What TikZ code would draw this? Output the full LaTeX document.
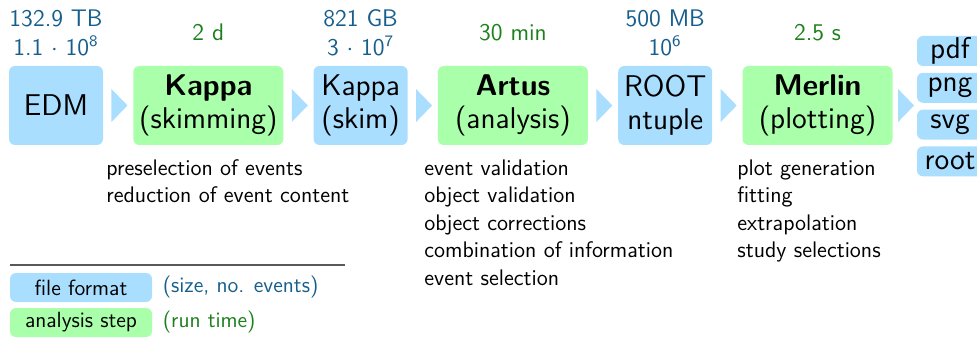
\documentclass[tikz,border=0pt]{standalone}
\usetikzlibrary{positioning,shapes.geometric}
\definecolor{fileblue}{RGB}{170,222,255}
\definecolor{stepgreen}{RGB}{170,255,170}
\definecolor{sizeblue}{RGB}{22,94,140}
\definecolor{timegreen}{RGB}{28,128,28}
\begin{document}
\begin{tikzpicture}[x=0.5pt, y=-0.5pt]
	\tikzstyle{file}=[rounded corners=3pt, fill=fileblue, align=center, inner sep=0pt, minimum width=47pt, minimum height=39.5pt, font=\sffamily\fontsize{15}{16.5}\selectfont]
	\tikzstyle{stepbox}=[file, fill=stepgreen, minimum width=75pt]
	\tikzstyle{format}=[file, minimum width=33pt, minimum height=15pt]
	\tikzstyle{legendbox}=[minimum width=71pt, minimum height=14.5pt, font=\sffamily\fontsize{11}{13}\selectfont]
	\tikzstyle{flow}=[isosceles triangle, isosceles triangle stretches, fill=fileblue, inner sep=0pt, minimum width=16.5pt, minimum height=8pt]
	\tikzstyle{sizelabel}=[text=sizeblue, align=center, inner sep=0pt, font=\sffamily\fontsize{12}{14.5}\selectfont]
	\tikzstyle{timelabel}=[sizelabel, text=timegreen]
	\tikzstyle{tasks}=[anchor=north west, align=left, inner sep=0pt, font=\sffamily\fontsize{11.25}{13.75}\selectfont]
	\newcommand\Ytop{32.5}
	\newcommand\Ytasks{159}
	\newcommand\Gap{14.75pt}

	\useasboundingbox (0,0) rectangle (977,341);
	\clip (0,0) rectangle (977,341);

	% chain of files and steps
	\node [file] at (56,105.5) (edm) {EDM};
	\node [stepbox, right=\Gap of edm] (kappa) {\textbf{Kappa}\\(skimming)};
	\node [file, right=\Gap of kappa] (skim) {Kappa\\(skim)};
	\node [stepbox, right=\Gap of skim] (artus) {\textbf{Artus}\\(analysis)};
	\node [file, right=\Gap of artus] (ntuple) {ROOT\\ntuple};
	\node [stepbox, right=\Gap of ntuple] (merlin) {\textbf{Merlin}\\(plotting)};

	% output formats
	\node [format] at (950,51) (pdf) {pdf};
	\node [format, below=3pt of pdf] (png) {png};
	\node [format, below=3pt of png] (svg) {svg};
	\node [format, below=3pt of svg] (root) {root};
	\coordinate (formats) at (merlin -| pdf.west);

	\foreach \a/\b in {edm/kappa, kappa/skim, skim/artus, artus/ntuple, ntuple/merlin, merlin/formats}
	{
		\path (\a) -- (\b) node [midway, flow] {};
	}

	% size and run time
	\node [sizelabel] at (edm |- 0,\Ytop) (edmsize) {132.9 TB\\1.1 $\cdot$ 10\textsuperscript{8}};
	\node [timelabel] at (kappa |- 0,\Ytop) (kappatime) {2 d};
	\node [sizelabel] at (skim |- 0,\Ytop) (skimsize) {821 GB\\3 $\cdot$ 10\textsuperscript{7}};
	\node [timelabel] at (artus |- 0,\Ytop) (artustime) {30 min};
	\node [sizelabel] at (ntuple |- 0,\Ytop) (ntuplesize) {500 MB\\10\textsuperscript{6}};
	\node [timelabel] at (merlin |- 0,\Ytop) (merlintime) {2.5 s};

	% what each step does
	\node [tasks] at (106,\Ytasks) (kappatasks) {preselection of events\\reduction of event content};
	\node [tasks] at (424,\Ytasks) (artustasks) {event validation\\object validation\\object corrections\\combination of information\\event selection};
	\node [tasks] at (737,\Ytasks) (merlintasks) {plot generation\\fitting\\extrapolation\\study selections};

	% legend
	\draw [line width=1pt, black!65] (10,265) -- (345,265);
	\node [file, legendbox] at (81,287.5) (legfile) {file format};
	\node [stepbox, legendbox] at (81,322.5) (legstep) {analysis step};
	\node [sizelabel, legendbox, anchor=west, minimum width=0pt, right=5pt of legfile] (legsize) {(size, no. events)};
	\node [timelabel, legendbox, anchor=west, minimum width=0pt, right=5pt of legstep] (legtime) {(run time)};

\end{tikzpicture}
\end{document}
